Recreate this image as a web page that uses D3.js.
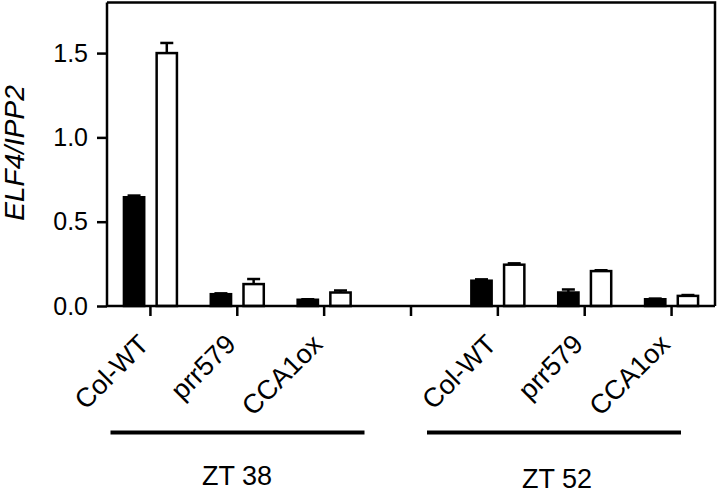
<!DOCTYPE html>
<html>
<head>
<meta charset="utf-8">
<script src="https://cdn.jsdelivr.net/npm/d3@7.9.0/dist/d3.min.js"></script>
<style>
  body { margin: 0; background: #fff; }
  svg { font-family: "Liberation Sans", Arial, sans-serif; }
</style>
</head>
<body>
<svg id="chart" width="718" height="493"></svg>
<script>
const genotypes = ["Col-WT", "prr579", "CCA1ox"];
const timepoints = ["ZT 38", "ZT 52"];

// one slot per genotype, with an empty slot between the two timepoints
const slots = ["ZT 38|Col-WT", "ZT 38|prr579", "ZT 38|CCA1ox", "gap",
               "ZT 52|Col-WT", "ZT 52|prr579", "ZT 52|CCA1ox"];

const blackValues = [0.645, 0.07, 0.037, 0.15, 0.08, 0.04];
const blackErrors = [0.01, 0.005, 0.003, 0.008, 0.018, 0.004];
const whiteValues = [1.50, 0.13, 0.08, 0.245, 0.207, 0.06];
const whiteErrors = [0.06, 0.03, 0.012, 0.008, 0.005, 0.005];

const yTicks = [0, 0.5, 1.0, 1.5];

const svg = d3.select("#chart");
const plotLeft = 107, plotRight = 715, plotTop = 2.5, plotBottom = 306;

const x = d3.scaleBand().domain(slots).range([plotLeft, plotRight]).padding(0);
const y = d3.scaleLinear().domain([0, 1.8]).range([plotBottom, plotTop]);
const inner = d3.scaleBand().domain(["black", "white"]).range([-26.5, 26.5]).paddingInner(0.38);

const bars = [];
const dataSlots = slots.filter((s) => s !== "gap");
dataSlots.forEach((s, i) => {
  bars.push({ slot: s, kind: "black", value: blackValues[i], err: blackErrors[i] });
  bars.push({ slot: s, kind: "white", value: whiteValues[i], err: whiteErrors[i] });
});

const bx = (d) => x(d.slot) + x.bandwidth() / 2 + inner(d.kind);

// error bars (upper only)
const eb = svg.append("g").attr("stroke", "#000").attr("stroke-width", 2.5);
eb.selectAll("line.v")
  .data(bars)
  .join("line")
  .attr("class", "v")
  .attr("x1", (d) => bx(d) + inner.bandwidth() / 2)
  .attr("x2", (d) => bx(d) + inner.bandwidth() / 2)
  .attr("y1", (d) => y(d.value))
  .attr("y2", (d) => y(d.value + d.err));
eb.selectAll("line.cap")
  .data(bars)
  .join("line")
  .attr("class", "cap")
  .attr("x1", (d) => bx(d) + inner.bandwidth() / 2 - 6.5)
  .attr("x2", (d) => bx(d) + inner.bandwidth() / 2 + 6.5)
  .attr("y1", (d) => y(d.value + d.err))
  .attr("y2", (d) => y(d.value + d.err));

svg.append("g")
  .selectAll("rect")
  .data(bars)
  .join("rect")
  .attr("x", (d) => bx(d))
  .attr("width", inner.bandwidth())
  .attr("y", (d) => y(d.value))
  .attr("height", (d) => y(0) - y(d.value))
  .attr("fill", (d) => (d.kind === "black" ? "#000" : "#fff"))
  .attr("stroke", "#000")
  .attr("stroke-width", 2.5);

// frame: top and right borders
svg.append("path")
  .attr("d", `M${plotLeft},${plotTop}H${plotRight}V${plotBottom}`)
  .attr("fill", "none")
  .attr("stroke", "#000")
  .attr("stroke-width", 2.5);

const yAxis = svg.append("g")
  .attr("transform", `translate(${plotLeft},0)`)
  .call(d3.axisLeft(y).tickValues(yTicks).tickFormat(d3.format(".1f")).tickSize(10).tickPadding(9));
yAxis.select(".domain").attr("d", `M0,${plotTop}V${plotBottom}`).attr("stroke-width", 2.5);
yAxis.selectAll(".tick line").attr("stroke-width", 2.5);
yAxis.selectAll("text").attr("font-size", 25).attr("fill", "#000").attr("font-family", "Liberation Sans, Arial, sans-serif");

const xAxis = svg.append("g")
  .attr("transform", `translate(0,${plotBottom})`)
  .call(d3.axisBottom(x).tickSize(10).tickFormat((d) => (d === "gap" ? "" : d.split("|")[1])));
xAxis.select(".domain").attr("d", `M${plotLeft},0H${plotRight}`).attr("stroke-width", 2.5);
xAxis.selectAll(".tick line").attr("stroke-width", 2.5);
xAxis.selectAll("text")
  .attr("font-size", 27)
  .attr("fill", "#000")
  .attr("font-family", "Liberation Sans, Arial, sans-serif")
  .attr("text-anchor", "end")
  .attr("y", null)
  .attr("dy", null)
  .attr("transform", "translate(0,40) rotate(-45)");

// group lines and labels
const groupMid = [237.5, 554];
const labelMid = [237, 557];
const labelBase = [485, 488];
timepoints.forEach((tp, i) => {
  svg.append("line")
    .attr("x1", groupMid[i] - 127).attr("x2", groupMid[i] + 127)
    .attr("y1", 432.5).attr("y2", 432.5)
    .attr("stroke", "#000").attr("stroke-width", 4);
  svg.append("text")
    .attr("x", labelMid[i])
    .attr("y", labelBase[i])
    .attr("text-anchor", "middle")
    .attr("font-size", 27)
    .text(tp);
});

svg.append("text")
  .attr("transform", "translate(24,153) rotate(-90)")
  .attr("text-anchor", "middle")
  .attr("font-size", 28)
  .attr("font-style", "italic")
  .text("ELF4/IPP2");
</script>
</body>
</html>
